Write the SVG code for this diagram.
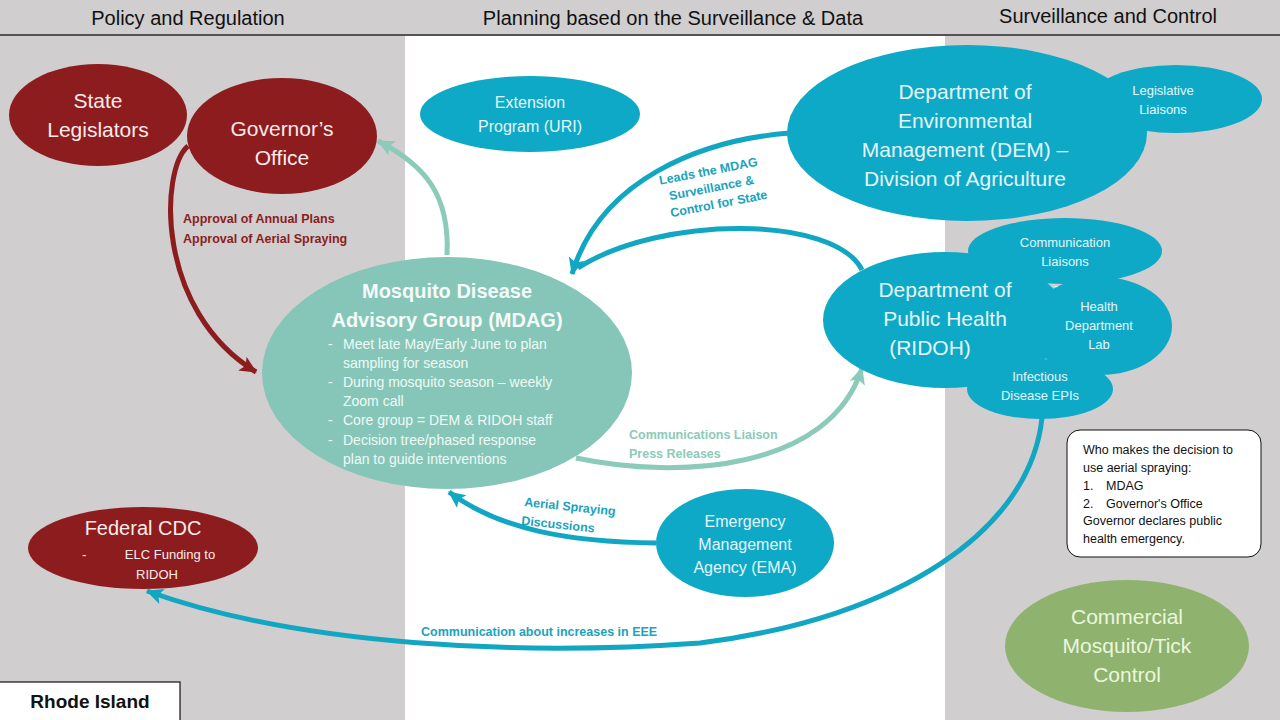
<svg xmlns="http://www.w3.org/2000/svg" width="1280" height="720" viewBox="0 0 1280 720">
<defs>
<style>
.hdr{font-family:"Liberation Sans",Arial,sans-serif;font-size:20px;fill:#111;text-anchor:middle}
.big{font-family:"Liberation Sans",Arial,sans-serif;font-size:21px;text-anchor:middle}
.med{font-family:"Liberation Sans",Arial,sans-serif;font-size:16px;text-anchor:middle;fill:#e4f6fa}
.sm{font-family:"Liberation Sans",Arial,sans-serif;font-size:13px;text-anchor:middle;fill:#e4f6fa}
.bul{font-family:"Liberation Sans",Arial,sans-serif;font-size:14px;fill:#eefaf6}
.lbl{font-family:"Liberation Sans",Arial,sans-serif;font-size:12.5px;font-weight:bold}
.red{fill:#8c1c1e}
.teal{fill:#0ea9c6}
.conn{fill:none;stroke-width:5}
</style>
<marker id="ah-red" markerUnits="userSpaceOnUse" markerWidth="20" markerHeight="20" refX="16" refY="8" orient="auto"><path d="M0,0 L17,8 L0,16 L4,8 Z" fill="#8c1c1e"/></marker>
<marker id="ah-teal" markerUnits="userSpaceOnUse" markerWidth="20" markerHeight="20" refX="16" refY="8" orient="auto"><path d="M0,0 L17,8 L0,16 L4,8 Z" fill="#11a6c1"/></marker>
<marker id="ah-mint" markerUnits="userSpaceOnUse" markerWidth="20" markerHeight="20" refX="16" refY="8" orient="auto"><path d="M0,0 L17,8 L0,16 L4,8 Z" fill="#8ccab9"/></marker>
</defs>
<rect x="0" y="0" width="1280" height="720" fill="#d0cece"/>
<rect x="405" y="36" width="540" height="684" fill="#ffffff"/>
<line x1="0" y1="35" x2="1280" y2="35" stroke="#2a2a2a" stroke-width="1.5"/>
<g id="headers">
<text class="hdr" x="188" y="25">Policy and Regulation</text>
<text class="hdr" x="673" y="25">Planning based on the Surveillance &amp; Data</text>
<text class="hdr" x="1108" y="23">Surveillance and Control</text>
</g>

<g id="connectors">
<path class="conn" stroke="#8c1c1e" d="M188,146 C160,170 155,310 256,372" marker-end="url(#ah-red)"/>
<path class="conn" stroke="#8ccab9" d="M447,255 C450,195 425,165 378,141" marker-end="url(#ah-mint)"/>
<path class="conn" stroke="#11a6c1" d="M790,133 C700,140 600,180 572,274" marker-end="url(#ah-teal)"/>
<path class="conn" stroke="#11a6c1" d="M862,270 C835,215 660,215 578,268"/>
<path class="conn" stroke="#8ccab9" d="M576,458 C680,480 830,470 862,368" marker-end="url(#ah-mint)"/>
<path class="conn" stroke="#11a6c1" d="M656,543 C570,542 500,530 449,492" marker-end="url(#ah-teal)"/>
<path class="conn" stroke="#11a6c1" d="M1042,418 C1030,530 900,618 700,643 C520,656 300,646 147,591" marker-end="url(#ah-teal)"/>
<text class="lbl red" x="183" y="223">Approval of Annual Plans</text>
<text class="lbl red" x="183" y="243">Approval of Aerial  Spraying</text>
<g transform="rotate(-11 712 190)" fill="#1aa3bd">
<text class="lbl" x="712" y="175" text-anchor="middle">Leads the MDAG</text>
<text class="lbl" x="712" y="192" text-anchor="middle">Surveillance &amp;</text>
<text class="lbl" x="716" y="209" text-anchor="middle">Control for State</text>
</g>
<text class="lbl" x="629" y="439" fill="#8ccab9">Communications Liaison</text>
<text class="lbl" x="629" y="458" fill="#8ccab9">Press Releases</text>
<g transform="rotate(6 524 505)" fill="#1aa3bd">
<text class="lbl" x="524" y="506">Aerial Spraying</text>
<text class="lbl" x="523" y="525">Discussions</text>
</g>
<text class="lbl" x="421" y="636" fill="#1aa3bd">Communication about increases in EEE</text>
</g>

<g id="state-legislators">
<ellipse cx="98" cy="115" rx="89" ry="51" class="red"/>
<text class="big" x="98" y="108" fill="#fbeaea">State</text>
<text class="big" x="98" y="137" fill="#fbeaea">Legislators</text>
</g>
<g id="governors-office">
<ellipse cx="282" cy="136" rx="95" ry="58" class="red"/>
<text class="big" x="282" y="136" fill="#fbeaea">Governor’s</text>
<text class="big" x="282" y="165" fill="#fbeaea">Office</text>
</g>
<g id="extension-program">
<ellipse cx="530" cy="114" rx="110" ry="38" class="teal"/>
<text class="med" x="530" y="108">Extension</text>
<text class="med" x="530" y="132">Program (URI)</text>
</g>
<g id="dem">
<ellipse cx="967" cy="133" rx="180" ry="88" class="teal"/>
<text class="big" x="965" y="99" fill="#e4f6fa">Department of</text>
<text class="big" x="965" y="128" fill="#e4f6fa">Environmental</text>
<text class="big" x="965" y="157" fill="#e4f6fa">Management (DEM) –</text>
<text class="big" x="965" y="186" fill="#e4f6fa">Division of Agriculture</text>
</g>
<g id="legislative-liaisons">
<ellipse cx="1176" cy="99" rx="86" ry="34" class="teal"/>
<text class="sm" x="1163" y="95">Legislative</text>
<text class="sm" x="1163" y="114">Liaisons</text>
</g>
<g id="ridoh">
<ellipse cx="1065" cy="251" rx="97" ry="33" class="teal"/>
<ellipse cx="1100" cy="326" rx="72" ry="49" class="teal"/>
<ellipse cx="1040" cy="389" rx="73" ry="30" class="teal"/>
<ellipse cx="945" cy="320" rx="122" ry="68" class="teal"/>
<text class="big" x="945" y="297" fill="#e4f6fa">Department of</text>
<text class="big" x="945" y="326" fill="#e4f6fa">Public Health</text>
<text class="big" x="930" y="355" fill="#e4f6fa">(RIDOH)</text>
<text class="sm" x="1065" y="247">Communication</text>
<text class="sm" x="1065" y="266">Liaisons</text>
<text class="sm" x="1056" y="290">-</text>
<text class="sm" x="1099" y="311">Health</text>
<text class="sm" x="1099" y="330">Department</text>
<text class="sm" x="1099" y="349">Lab</text>
<text class="sm" x="1040" y="381">Infectious</text>
<text class="sm" x="1040" y="400">Disease EPIs</text>
</g>
<g id="mdag">
<ellipse cx="447" cy="373" rx="185" ry="116" fill="#86c6b8"/>
<text x="447" y="298" font-family="Liberation Sans, Arial, sans-serif" font-size="20" font-weight="bold" fill="#f4fbf9" text-anchor="middle">Mosquito Disease</text>
<text x="447" y="327" font-family="Liberation Sans, Arial, sans-serif" font-size="20" font-weight="bold" fill="#f4fbf9" text-anchor="middle">Advisory Group (MDAG)</text>
<text class="bul" x="328" y="349">-</text><text class="bul" x="343" y="349">Meet late May/Early June to plan</text>
<text class="bul" x="343" y="368">sampling for season</text>
<text class="bul" x="328" y="387">-</text><text class="bul" x="343" y="387">During mosquito season – weekly</text>
<text class="bul" x="343" y="406">Zoom call</text>
<text class="bul" x="328" y="425">-</text><text class="bul" x="343" y="425">Core group = DEM &amp; RIDOH staff</text>
<text class="bul" x="328" y="445">-</text><text class="bul" x="343" y="445">Decision tree/phased response</text>
<text class="bul" x="343" y="464">plan to guide interventions</text>
</g>
<g id="ema">
<ellipse cx="745" cy="543" rx="89" ry="54" class="teal"/>
<text class="med" x="745" y="527">Emergency</text>
<text class="med" x="745" y="550">Management</text>
<text class="med" x="745" y="573">Agency (EMA)</text>
</g>
<g id="federal-cdc">
<ellipse cx="143" cy="548" rx="115" ry="41" class="red"/>
<text x="143" y="535" font-family="Liberation Sans, Arial, sans-serif" font-size="20" fill="#fbeaea" text-anchor="middle">Federal CDC</text>
<text x="82" y="559" font-family="Liberation Sans, Arial, sans-serif" font-size="13" fill="#fbeaea">-</text>
<text x="170" y="559" font-family="Liberation Sans, Arial, sans-serif" font-size="13" fill="#fbeaea" text-anchor="middle">ELC Funding to</text>
<text x="157" y="579" font-family="Liberation Sans, Arial, sans-serif" font-size="13" fill="#fbeaea" text-anchor="middle">RIDOH</text>
</g>
<g id="decision-note">
<rect x="1067" y="430" width="194" height="127" rx="13" ry="13" fill="#ffffff" stroke="#111" stroke-width="1"/>
<g font-family="Liberation Sans, Arial, sans-serif" font-size="12.5" fill="#111">
<text x="1083" y="454">Who makes the decision to</text>
<text x="1083" y="472">use aerial spraying:</text>
<text x="1083" y="490">1.</text><text x="1106" y="490">MDAG</text>
<text x="1083" y="508">2.</text><text x="1106" y="508">Governor's Office</text>
<text x="1083" y="525">Governor declares public</text>
<text x="1083" y="543">health emergency.</text>
</g>
</g>
<g id="commercial">
<ellipse cx="1127" cy="646" rx="122" ry="66" fill="#8fb36f"/>
<text class="big" x="1127" y="624" fill="#eaf7dc">Commercial</text>
<text class="big" x="1127" y="653" fill="#eaf7dc">Mosquito/Tick</text>
<text class="big" x="1127" y="682" fill="#eaf7dc">Control</text>
</g>
<g id="rhode-island">
<rect x="-1" y="682" width="181" height="40" fill="#ffffff" stroke="#111" stroke-width="1.2"/>
<text x="90" y="708" font-family="Liberation Sans, Arial, sans-serif" font-size="19" font-weight="bold" fill="#111" text-anchor="middle">Rhode Island</text>
</g>
</svg>
